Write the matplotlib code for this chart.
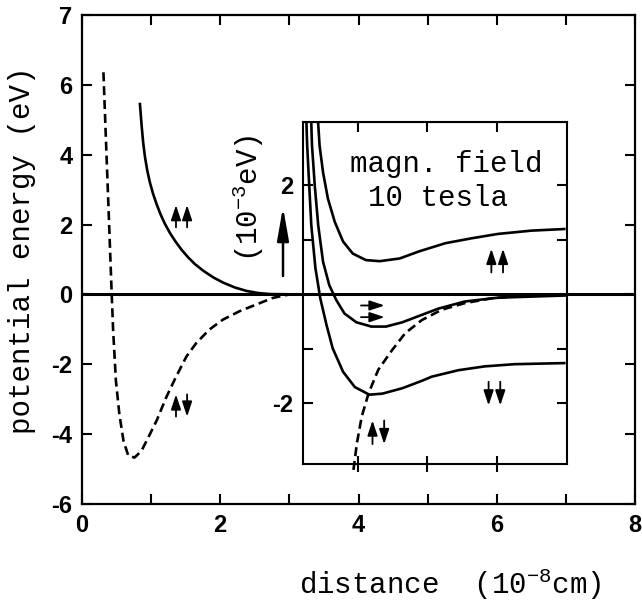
import matplotlib
matplotlib.use('Agg')
import matplotlib.pyplot as plt
from matplotlib.transforms import ScaledTranslation

plt.rcParams['axes.unicode_minus'] = False
plt.rcParams['mathtext.fontset'] = 'custom'
plt.rcParams['mathtext.rm'] = 'Liberation Mono'
plt.rcParams['mathtext.it'] = 'Liberation Mono'
plt.rcParams['mathtext.bf'] = 'Liberation Mono:bold'
plt.rcParams['lines.scale_dashes'] = False
plt.rcParams['lines.solid_joinstyle'] = 'round'

# ---------------- data (main panel, eV vs 1e-8 cm) ----------------
main_triplet_x = [0.838, 0.862, 0.885, 0.910, 0.944, 0.983, 1.03, 1.08, 1.137, 1.20, 1.272,
                  1.344, 1.44, 1.536, 1.633, 1.753, 1.897, 2.04, 2.21, 2.38, 2.55, 2.72, 3.1]
main_triplet_y = [5.45, 4.85, 4.35, 3.95, 3.55, 3.20, 2.87, 2.58, 2.29, 2.02, 1.76,
                  1.54, 1.28, 1.06, 0.87, 0.68, 0.49, 0.34, 0.20, 0.10, 0.04, 0.01, 0.0]

main_singlet_x = [0.31, 0.343, 0.385, 0.411, 0.43, 0.45, 0.49, 0.54, 0.60, 0.67, 0.76, 0.86,
                  0.96, 1.08, 1.22, 1.36, 1.51, 1.65, 1.84, 2.04, 2.28, 2.52, 2.76, 3.0]
main_singlet_y = [6.36, 4.6, 2.4, 1.0, 0.0, -1.01, -2.46, -3.42, -4.19, -4.62, -4.67, -4.48,
                  -4.09, -3.61, -2.94, -2.36, -1.78, -1.40, -1.01, -0.72, -0.48, -0.29, -0.10, 0.0]

main_xticks = [0, 2, 4, 6, 8]
main_xtick_labels = ['0', '2', '4', '6', '8']
main_xminor = [1, 3, 5, 7]
main_yticks = [-6, -4, -2, 0, 2, 4, 6, 8]
main_ytick_labels = ['-6', '-4', '-2', '0', '2', '4', '6', '7']

# ---------------- data (inset, 1e-3 eV, 10 tesla) ----------------
in_up_x = [3.41, 3.42, 3.44, 3.49, 3.56, 3.66, 3.78, 3.92, 4.11, 4.31, 4.60, 4.88,
           5.26, 5.64, 6.02, 6.50, 6.98]
in_up_y = [3.22, 3.13, 2.73, 2.24, 1.76, 1.33, 0.97, 0.75, 0.63, 0.61, 0.66, 0.79,
           0.94, 1.03, 1.11, 1.17, 1.20]

in_mid_x = [3.31, 3.32, 3.33, 3.37, 3.42, 3.49, 3.58, 3.68, 3.80, 3.97, 4.19, 4.40, 4.64,
            4.93, 5.16, 5.54, 6.02, 6.50, 6.99]
in_mid_y = [3.22, 3.14, 2.74, 2.00, 1.27, 0.60, 0.17, -0.10, -0.35, -0.51, -0.59, -0.59, -0.51,
            -0.37, -0.26, -0.13, -0.06, -0.04, -0.02]

in_down_x = [3.245, 3.25, 3.26, 3.29, 3.32, 3.38, 3.45, 3.54, 3.63, 3.78, 3.95, 4.16, 4.35,
             4.64, 4.93, 5.06, 5.45, 5.83, 6.26, 6.98]
in_down_y = [3.22, 3.14, 2.74, 2.00, 1.27, 0.48, -0.07, -0.56, -0.99, -1.42, -1.70, -1.84, -1.82,
             -1.72, -1.58, -1.51, -1.39, -1.32, -1.28, -1.26]

in_singlet_x = [3.93, 3.98, 4.05, 4.15, 4.29, 4.49, 4.68, 4.92, 5.21, 5.54, 5.93, 6.26]
in_singlet_y = [-3.22, -2.73, -2.24, -1.81, -1.38, -1.02, -0.71, -0.47, -0.28, -0.16, -0.07, -0.04]

in_xlim = (3.20, 7.02)
in_ylim = (-3.12, 3.17)
in_xticks = [4, 5, 6]
in_yticks = [-2, -1, 1, 2]
in_ytick_labels = ['-2', '', '', '2']

# spin labels: (x, y, arrow directions)
main_spins = [(1.44, 2.24, 'uu'), (1.44, -3.18, 'ud')]
inset_spins = [(6.01, 0.62, 'uu'), (5.97, -1.82, 'dd'), (4.29, -2.53, 'ud'), (4.21, -0.31, 'rr')]

mono = 'Liberation Mono'
LW = 1.9
DASH = (6.5, 3.5)

fig = plt.figure(figsize=(6.42, 6.02), dpi=100)

# ---------------- main axes ----------------
m_left, m_bottom, m_w, m_h = 82 / 642, 1 - 504 / 602, 553 / 642, 489 / 602
ax = fig.add_axes([m_left, m_bottom, m_w, m_h])
ax.set_xlim(0, 8)
ax.set_ylim(-6, 8)
ax.plot(main_triplet_x, main_triplet_y, color='k', lw=LW)
ax.plot(main_singlet_x, main_singlet_y, color='k', lw=LW, dashes=DASH)
ax.axhline(0, color='k', lw=2.2)

ax.set_xticks(main_xticks)
ax.set_xticklabels(main_xtick_labels)
ax.set_xticks(main_xminor, minor=True)
ax.set_yticks(main_yticks)
ax.set_yticklabels(main_ytick_labels)
ax.tick_params(which='both', direction='in', top=True, right=True,
               length=7, width=1.5, labelsize=17, pad=7)
for lab in ax.get_xticklabels() + ax.get_yticklabels():
    lab.set_fontfamily('Liberation Sans')
    lab.set_fontweight('bold')
for s in ax.spines.values():
    s.set_linewidth(1.6)

# ---------------- inset (zero aligned with main zero) ----------------
i_left, i_w = 303 / 642, 264 / 642
i_h = 342.8 / 602
zero_frac = m_bottom + m_h * (0 - (-6)) / 14
i_bottom = zero_frac - i_h * (0 - in_ylim[0]) / (in_ylim[1] - in_ylim[0])
axi = fig.add_axes([i_left, i_bottom, i_w, i_h])
axi.set_facecolor('white')
axi.set_xlim(*in_xlim)
axi.set_ylim(*in_ylim)
axi.plot(in_up_x, in_up_y, color='k', lw=LW)
axi.plot(in_mid_x, in_mid_y, color='k', lw=LW)
axi.plot(in_down_x, in_down_y, color='k', lw=LW)
axi.plot(in_singlet_x, in_singlet_y, color='k', lw=LW, dashes=DASH, clip_on=False)
axi.axhline(0, color='k', lw=2.2)

axi.set_xticks(in_xticks)
axi.set_xticklabels([])
axi.tick_params(axis='x', direction='inout', length=12, width=1.5, top=False)
sec = axi.secondary_xaxis('top')
sec.set_xticks(in_xticks)
sec.set_xticklabels([])
sec.tick_params(direction='in', length=7, width=1.5)
axi.set_yticks(in_yticks)
axi.set_yticklabels(in_ytick_labels)
axi.tick_params(axis='y', direction='in', left=True, right=True,
                length=7, width=1.5, labelsize=17, pad=7)
for lab in axi.get_yticklabels():
    lab.set_fontfamily('Liberation Sans')
    lab.set_fontweight('bold')
for s in axi.spines.values():
    s.set_linewidth(1.5)


# ---------------- spin arrows ----------------
def arrow(axis, x, y, tail, tip):
    t_tip = axis.transData + ScaledTranslation(tip[0] / 72, tip[1] / 72, fig.dpi_scale_trans)
    t_tail = axis.transData + ScaledTranslation(tail[0] / 72, tail[1] / 72, fig.dpi_scale_trans)
    axis.annotate('', xy=(x, y), xycoords=t_tip, xytext=(x, y), textcoords=t_tail,
                  arrowprops=dict(arrowstyle='-|>,head_length=0.45,head_width=0.15',
                                  lw=1.3, color='k', mutation_scale=20,
                                  shrinkA=0, shrinkB=0))


def spins(axis, x, y, dirs, L=8.0, sep=4.0):
    offs = [-sep, sep]
    for d, o in zip(dirs, offs):
        if d == 'u':
            arrow(axis, x, y, (o, -L), (o, L))
        elif d == 'd':
            arrow(axis, x, y, (o, L), (o, -L))
        elif d == 'r':
            arrow(axis, x, y, (-L, -o), (L, -o))


for x, y, d in main_spins:
    spins(ax, x, y, d)
for x, y, d in inset_spins:
    spins(axi, x, y, d, L=8.5, sep=4.2)

# ---------------- texts ----------------
axi.text(0.178, 0.854, 'magn. field', transform=axi.transAxes, ha='left',
         va='baseline', fontsize=21, family=mono)
axi.text(0.246, 0.754, '10 tesla', transform=axi.transAxes, ha='left',
         va='baseline', fontsize=21, family=mono)

fig.text(248 / 642, 1 - 198 / 602, '(10$^{-3}$eV)', rotation=90, ha='center',
         va='center', fontsize=21, family=mono)
ax.annotate('', xy=(283 / 642, 1 - 207 / 602), xytext=(283 / 642, 1 - 276 / 602),
            xycoords='figure fraction', textcoords='figure fraction',
            arrowprops=dict(arrowstyle='-|>,head_length=0.8,head_width=0.14',
                            lw=1.8, color='k', mutation_scale=25, shrinkA=0, shrinkB=0))

fig.text(22 / 642, 1 - 250 / 602, 'potential energy (eV)', rotation=90,
         ha='center', va='center', fontsize=21, family=mono)
fig.text(450 / 642, 1 - 594 / 602, 'distance  (10$^{-8}$cm)', ha='center',
         va='baseline', fontsize=21, family=mono)

fig.savefig('out.png', dpi=100, facecolor='white')
